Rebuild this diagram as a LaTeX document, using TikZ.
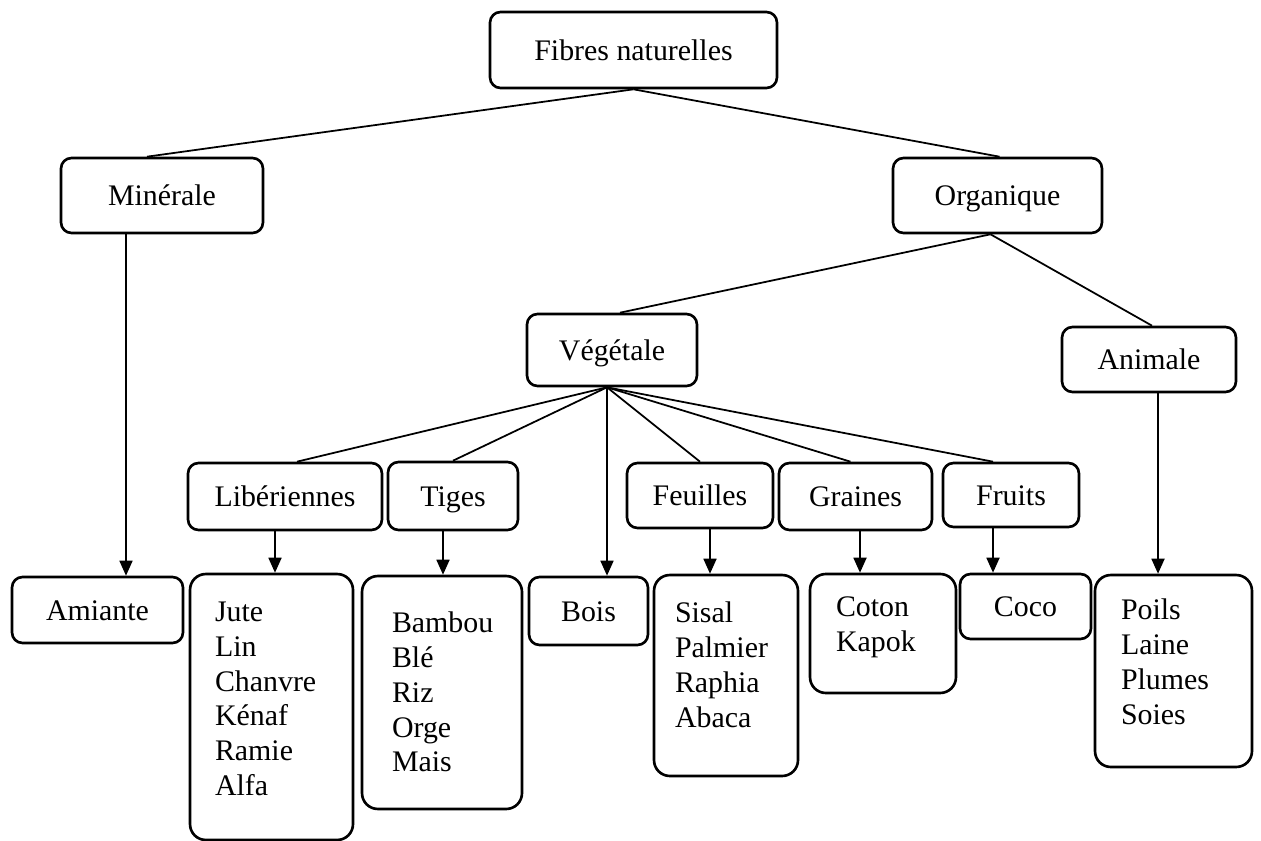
\documentclass[tikz,border=0pt]{standalone}
\usepackage{fontspec}
\setmainfont{Liberation Serif}
\usetikzlibrary{calc,arrows.meta}

\begin{document}
\begin{tikzpicture}[x=0.02cm,y=-0.02cm,
  boite/.style={draw, line width=1.5pt, rounded corners=6pt, inner sep=0pt,
    text height=11.5pt, text depth=0pt,
    font=\fontsize{17}{19.8}\selectfont},
  liste/.style={boite, rounded corners=9pt},
  texteliste/.style={anchor=north west, inner sep=0pt, align=left,
    font=\fontsize{17}{19.8}\selectfont},
  lien/.style={line width=1pt},
  fleche/.style={line width=1pt, -{Triangle[length=0.3cm,width=0.26cm]}}]

\useasboundingbox (0,0) rectangle (1261,841);

% Top levels
\node[boite, minimum width=5.74cm, minimum height=1.52cm] (fibres) at (633.5,50) {Fibres naturelles};
\node[boite, minimum width=4.04cm, minimum height=1.50cm] (minerale) at (162,195.5) {Minérale};
\node[boite, minimum width=4.18cm, minimum height=1.50cm] (organique) at (997.5,195.5) {Organique};
\node[boite, minimum width=3.40cm, minimum height=1.44cm] (vegetale) at (612,350) {Végétale};
\node[boite, minimum width=3.48cm, minimum height=1.30cm] (animale) at (1149,359.5) {Animale};

% Plant families
\node[boite, minimum width=3.88cm, minimum height=1.34cm] (liberiennes) at (285,496.5) {Libériennes};
\node[boite, minimum width=2.60cm, minimum height=1.36cm] (tiges) at (453,496) {Tiges};
\node[boite, minimum width=2.92cm, minimum height=1.30cm] (feuilles) at (700,495.5) {Feuilles};
\node[boite, minimum width=3.06cm, minimum height=1.34cm] (graines) at (855.5,496.5) {Graines};
\node[boite, minimum width=2.72cm, minimum height=1.28cm] (fruits) at (1011,495) {Fruits};

% Bottom row
\node[boite, minimum width=3.42cm, minimum height=1.32cm] (amiante) at (97.5,610) {Amiante};
\node[liste, minimum width=3.26cm, minimum height=5.32cm] (jute) at (271.5,707) {};
\node[liste, minimum width=3.20cm, minimum height=4.66cm] (bambou) at (442,692.5) {};
\node[boite, minimum width=2.38cm, minimum height=1.36cm] (bois) at (588.5,611) {Bois};
\node[liste, minimum width=2.88cm, minimum height=4.02cm] (sisal) at (726,675.5) {};
\node[liste, minimum width=2.92cm, minimum height=2.38cm] (coton) at (883,633.5) {};
\node[boite, minimum width=2.62cm, minimum height=1.30cm] (coco) at (1025.5,606.5) {Coco};
\node[liste, minimum width=3.14cm, minimum height=3.84cm] (poils) at (1173.5,671) {};

\node[texteliste] (jutetxt) at ($(jute.north west)+(26,29)$) {Jute\\Lin\\Chanvre\\Kénaf\\Ramie\\Alfa};
\node[texteliste] (bamboutxt) at ($(bambou.north west)+(31,37)$) {Bambou\\Blé\\Riz\\Orge\\Mais};
\node[texteliste] (sisaltxt) at ($(sisal.north west)+(22,28)$) {Sisal\\Palmier\\Raphia\\Abaca};
\node[texteliste] (cotontxt) at ($(coton.north west)+(27,24)$) {Coton\\Kapok};
\node[texteliste] (poilstxt) at ($(poils.north west)+(27,25)$) {Poils\\Laine\\Plumes\\Soies};

% Tree lines
\coordinate (os) at ($(organique.south)+(-7,0)$);
\coordinate (vs) at ($(vegetale.south)+(-5,0)$);
\draw[lien] (fibres.south) -- ($(minerale.north)+(-15,0)$);
\draw[lien] (fibres.south) -- ($(organique.north)+(2,0)$);
\draw[lien] (os) -- ($(vegetale.north)+(8,0)$);
\draw[lien] (os) -- ($(animale.north)+(3,0)$);
\draw[lien] (vs) -- ($(liberiennes.north)+(12,0)$);
\draw[lien] (vs) -- (tiges.north);
\draw[lien] (vs) -- (feuilles.north);
\draw[lien] (vs) -- ($(graines.north)+(-5,0)$);
\draw[lien] (vs) -- ($(fruits.north)+(-18,0)$);

% Arrows
\coordinate (m1) at ($(minerale.south)+(-36,0)$);
\coordinate (l1) at ($(liberiennes.south)+(-10,0)$);
\coordinate (t1) at ($(tiges.south)+(-10,0)$);
\coordinate (f1) at ($(feuilles.south)+(10,0)$);
\coordinate (g1) at ($(graines.south)+(4.5,0)$);
\coordinate (r1) at ($(fruits.south)+(-18,0)$);
\coordinate (a1) at ($(animale.south)+(9,0)$);
\draw[fleche] (m1) -- (m1 |- amiante.north);
\draw[fleche] (l1) -- (l1 |- jute.north);
\draw[fleche] (t1) -- (t1 |- bambou.north);
\draw[fleche] (vs) -- (vs |- bois.north);
\draw[fleche] (f1) -- (f1 |- sisal.north);
\draw[fleche] (g1) -- (g1 |- coton.north);
\draw[fleche] (r1) -- (r1 |- coco.north);
\draw[fleche] (a1) -- (a1 |- poils.north);
\end{tikzpicture}
\end{document}
